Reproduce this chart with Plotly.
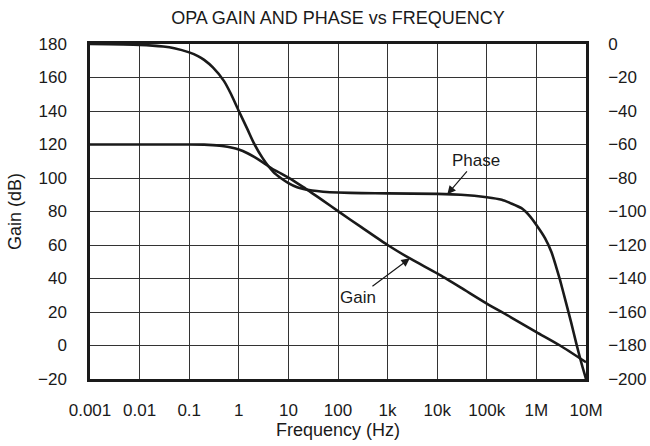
import numpy as np
import plotly.graph_objects as go

# ---- data ----
gain_freq = [0.001, 0.01, 0.1, 0.2, 0.3, 0.5, 0.7, 1, 1.5, 2, 3, 5, 7, 10, 20, 30, 50, 100, 300,
             1e3, 3e3, 1e4, 3e4, 1e5, 3e5, 1e6, 3e6, 1e7]
gain_db = [120, 120, 120, 119.9, 119.6, 119, 118.2, 117, 114.8, 112.8, 109.5, 105, 102.8, 100.2,
           94.5, 91, 86.5, 80.2, 70.5, 60, 51.5, 43, 34.5, 25, 17, 8, 0, -10]

phase_freq = [0.001, 0.01, 0.03, 0.05, 0.1, 0.15, 0.2, 0.3, 0.5, 0.7, 1, 1.5, 2, 3, 5, 7, 10,
              15, 20, 30, 50, 100, 300, 1e3, 1e4, 3e4, 1e5, 2e5, 3e5, 5e5, 7e5, 1e6, 1.5e6,
              2e6, 2.5e6, 3e6, 4e6, 5e6, 6.4e6, 8e6, 1e7]
phase_deg = [0, -0.5, -1.5, -2.5, -5, -7.2, -9.5, -14, -22, -30, -40, -51, -59, -68, -76.5, -80,
             -83, -85.5, -86.5, -87.5, -88.2, -88.7, -89, -89.2, -89.5, -90, -91.5, -93, -95,
             -98, -102, -108, -116, -124, -133, -141, -155, -166, -179, -190, -200]

x_tickvals = [1e-3, 1e-2, 1e-1, 1, 10, 100, 1e3, 1e4, 1e5, 1e6, 1e7]
x_ticktext = ["0.001", "0.01", "0.1", "1", "10", "100", "1k", "10k", "100k", "1M", "10M"]

gain_label_freq = 2.8e3
phase_label_freq = 1.6e4

FONT = "Liberation Sans, Arial, sans-serif"
INK = "#1a1a1a"

fig = go.Figure()
fig.add_trace(go.Scatter(x=gain_freq, y=gain_db, mode="lines", line=dict(color=INK, width=2.6),
                         line_shape="spline", line_smoothing=0.6, name="Gain", showlegend=False))
fig.add_trace(go.Scatter(x=phase_freq, y=phase_deg, mode="lines", yaxis="y2",
                         line=dict(color=INK, width=2.6), line_shape="spline", line_smoothing=0.6,
                         name="Phase", showlegend=False))

def interp_log(f, xs, ys):
    return float(np.interp(np.log10(f), np.log10(xs), ys))

fig.add_annotation(x=np.log10(gain_label_freq), y=interp_log(gain_label_freq, gain_freq, gain_db),
                   xref="x", yref="y", text="Gain", showarrow=True, ax=-52, ay=39,
                   arrowhead=2, arrowsize=1.4, arrowwidth=1.2, arrowcolor=INK,
                   font=dict(size=17, color=INK, family=FONT))
fig.add_annotation(x=np.log10(phase_label_freq), y=interp_log(phase_label_freq, phase_freq, phase_deg),
                   xref="x", yref="y2", text="Phase", showarrow=True, ax=29, ay=-34,
                   arrowhead=2, arrowsize=1.4, arrowwidth=1.2, arrowcolor=INK,
                   font=dict(size=17, color=INK, family=FONT))

fig.update_layout(
    width=650, height=446,
    margin=dict(l=90, r=64, t=44, b=67, autoexpand=False),
    paper_bgcolor="white", plot_bgcolor="white",
    font=dict(family=FONT, size=17, color=INK),
    title=dict(text="OPA GAIN AND PHASE vs FREQUENCY", x=0.5, xref="paper",
               y=1 - 18 / 446, yref="container", yanchor="middle", xanchor="center",
               pad=dict(t=0, b=0), font=dict(size=18, family=FONT, color=INK)),
    xaxis=dict(type="log", range=[-3, 7], tickvals=x_tickvals, ticktext=x_ticktext,
               showgrid=True, gridcolor="#333", gridwidth=1, showline=True, linecolor=INK,
               linewidth=2.5, mirror=True, ticks="", ticklabelstandoff=14, automargin=False,
               tickfont=dict(size=17),
               title=dict(text="Frequency (Hz)", standoff=5, font=dict(size=18)),
               zeroline=False),
    yaxis=dict(range=[-20, 180], dtick=20, tick0=0, showgrid=True, gridcolor="#333", gridwidth=1,
               showline=True, linecolor=INK, linewidth=2.5, ticks="", ticklabelstandoff=17,
               automargin=False, zeroline=False, tickfont=dict(size=17),
               title=dict(text="Gain (dB)", standoff=12, font=dict(size=18))),
    yaxis2=dict(range=[-200, 0], dtick=20, tick0=0, overlaying="y", side="right", showgrid=False,
                showline=True, linecolor=INK, linewidth=2.5, ticks="", ticklabelstandoff=16,
                automargin=False, zeroline=False, tickfont=dict(size=17)),
)

fig.write_html("out.html", config={"displayModeBar": False},
               post_script="document.body.style.margin='0';document.body.style.overflow='hidden';")
